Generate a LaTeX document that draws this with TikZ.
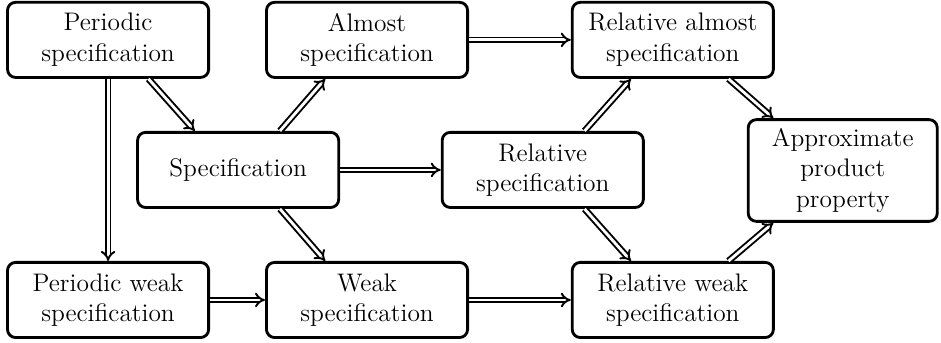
\documentclass[tikz,border=0pt]{standalone}
\usetikzlibrary{arrows.meta}
\begin{document}
\begin{tikzpicture}
				\tikzstyle{spec box}=[draw,line width=1.4pt,rounded corners=4pt,align=center,minimum width=3.48cm,minimum height=1.3cm,inner sep=2pt,font=\fontsize{12.5}{15}\selectfont]
				\tikzstyle{implies}=[double,double distance=1.4pt,line width=0.95pt,-{Implies}]
				\useasboundingbox(0,0)rectangle(16.28,5.93);
				\node(per)[spec box]at(1.87,5.24){Periodic\\specification};
				\node(alm)[spec box]at(6.35,5.24){Almost\\specification};
				\node(relalm)[spec box]at(11.64,5.24){Relative almost\\specification};
				\node(spec)[spec box]at(4.12,2.99){Specification};
				\node(rel)[spec box]at(9.39,2.99){Relative\\specification};
				\node(app)[spec box,minimum width=3.27cm,minimum height=1.76cm]at(14.58,2.98){Approximate\\product\\property};
				\node(perweak)[spec box]at(1.87,0.74){Periodic weak\\specification};
				\node(weak)[spec box]at(6.35,0.74){Weak\\specification};
				\node(relweak)[spec box]at(11.64,0.74){Relative weak\\specification};
				\draw[implies](per)--(perweak);
				\draw[implies](per.-44)--(spec.138);
				\draw[implies](spec.43)--(alm.-137);
				\draw[implies](spec)--(rel);
				\draw[implies](spec.-43)--(weak.137);
				\draw[implies](perweak)--(weak);
				\draw[implies](alm)--(relalm);
				\draw[implies](weak)--(relweak);
				\draw[implies](rel.43)--(relalm.-137);
				\draw[implies](rel.-43)--(relweak.137);
				\draw[implies](relalm.-35)--(app.143);
				\draw[implies](relweak.35)--(app.-143);
			\end{tikzpicture}
\end{document}
